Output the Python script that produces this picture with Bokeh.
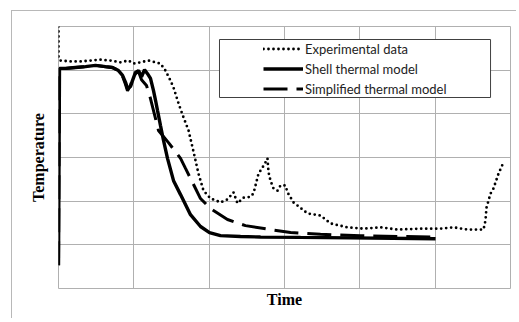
from bokeh.plotting import figure
from bokeh.models import Range1d, FixedTicker, Legend, LegendItem, BoxAnnotation
from bokeh.embed import file_html
from bokeh.resources import INLINE

# ---- data (arbitrary units) ----
exp_time = [0.00, 0.00, 0.027, 0.159, 0.292, 0.425, 0.558, 0.690, 0.823, 0.929, 0.996, 1.089, 1.195,
            1.288, 1.354, 1.420, 1.487, 1.527, 1.593, 1.659, 1.726, 1.779, 1.819, 1.858, 1.925, 2.018,
            2.084, 2.150, 2.243, 2.323, 2.376, 2.456, 2.549, 2.589, 2.655, 2.708, 2.748, 2.774, 2.788,
            2.814, 2.854, 2.907, 2.947, 3.013, 3.040, 3.120, 3.173, 3.305, 3.478, 3.611, 3.836, 4.049,
            4.275, 4.500, 4.806, 5.071, 5.244, 5.429, 5.642, 5.668, 5.681, 5.708, 5.734, 5.774, 5.841, 5.907]
exp_temp = [6.00, 5.27, 5.22, 5.20, 5.20, 5.22, 5.24, 5.22, 5.18, 5.22, 5.15, 5.18, 5.22,
            5.18, 5.15, 4.99, 4.76, 4.60, 4.24, 3.92, 3.62, 3.23, 2.93, 2.63, 2.24, 2.06,
            2.02, 1.97, 2.04, 2.20, 1.95, 2.08, 2.10, 2.18, 2.63, 2.77, 2.89, 2.98, 2.66,
            2.47, 2.29, 2.24, 2.36, 2.36, 2.20, 1.97, 1.90, 1.72, 1.67, 1.49, 1.40, 1.37,
            1.40, 1.35, 1.37, 1.37, 1.40, 1.35, 1.35, 1.56, 1.85, 2.01, 2.17, 2.29, 2.63, 2.89]

shell_time = [0.00, 0.013, 0.093, 0.226, 0.358, 0.491, 0.624, 0.717, 0.796, 0.850, 0.890, 0.916, 0.956,
              0.982, 1.022, 1.062, 1.102, 1.142, 1.181, 1.221, 1.261, 1.288, 1.314, 1.354, 1.394, 1.447,
              1.527, 1.620, 1.752, 1.885, 2.004, 2.150, 2.416, 2.682, 3.213, 3.876, 5.005]
shell_temp = [0.53, 5.04, 5.04, 5.06, 5.08, 5.11, 5.08, 5.06, 4.99, 4.88, 4.72, 4.58, 4.63,
              4.76, 4.95, 4.99, 4.85, 5.01, 4.92, 4.81, 4.53, 4.31, 4.08, 3.73, 3.39, 2.98,
              2.47, 2.15, 1.69, 1.42, 1.28, 1.21, 1.19, 1.18, 1.17, 1.16, 1.14]

simp_time = [0.00, 0.013, 0.093, 0.226, 0.358, 0.491, 0.624, 0.717, 0.796, 0.850, 0.890, 0.916, 0.956,
             0.982, 1.022, 1.062, 1.102, 1.168, 1.221, 1.288, 1.327, 1.460, 1.620, 1.686, 1.819, 1.885,
             2.018, 2.243, 2.482, 2.814, 3.080, 3.478, 4.009, 4.540, 5.005]
simp_temp = [0.53, 5.04, 5.04, 5.06, 5.08, 5.11, 5.08, 5.06, 4.99, 4.86, 4.67, 4.53, 4.65,
             4.79, 4.92, 4.97, 4.78, 4.65, 4.35, 3.89, 3.62, 3.34, 2.98, 2.75, 2.29, 2.06,
             1.83, 1.58, 1.44, 1.35, 1.28, 1.24, 1.21, 1.19, 1.18]

grid_ticks = [0, 1, 2, 3, 4, 5, 6]
legend_labels = ["Experimental data", "Shell thermal model", "Simplified thermal model"]

GRID = "#b0b0b0"

p = figure(width=505, height=308, output_backend="svg", toolbar_location=None,
           x_range=Range1d(0, 6), y_range=Range1d(0, 6),
           min_border_left=46, min_border_right=7, min_border_top=15, min_border_bottom=31)
# outer chart-area border: only its left and top edges fall inside the picture
p.styles = {"margin-left": "11px", "margin-top": "10px",
            "border-left": "1px solid #b8b8b8", "border-top": "1px solid #b8b8b8"}

p.background_fill_color = "white"
p.border_fill_color = "white"
p.outline_line_color = GRID
p.outline_line_width = 1

for ax in (p.xaxis, p.yaxis):
    ax.ticker = FixedTicker(ticks=[])
    ax.axis_line_color = None
    ax.major_tick_line_color = None
    ax.minor_tick_line_color = None
    ax.major_label_text_font_size = "0px"
    ax.major_label_standoff = 0
    ax.axis_label_text_font = "Liberation Serif"
    ax.axis_label_text_font_style = "bold"
    ax.axis_label_text_font_size = "16px"
    ax.axis_label_text_color = "black"

p.xaxis.axis_label = "Time"
p.yaxis.axis_label = "Temperature"
p.xaxis.axis_label_standoff = 2
p.yaxis.axis_label_standoff = 12

p.xgrid.ticker = FixedTicker(ticks=grid_ticks)
p.ygrid.ticker = FixedTicker(ticks=grid_ticks)
p.xgrid.grid_line_color = GRID
p.ygrid.grid_line_color = GRID

r_exp = p.line(exp_time, exp_temp, line_color="black", line_width=2.8,
               line_dash="0 5", line_cap="round")
r_shell = p.line(shell_time, shell_temp, line_color="black", line_width=3.4)
r_simp = p.line(simp_time, simp_temp, line_color="black", line_width=3,
                line_dash="24 9")

box = BoxAnnotation(left=2.137, right=5.735, bottom=4.374, top=5.702,
                    fill_color="white", fill_alpha=1.0,
                    line_color="#404040", line_width=1, line_alpha=1.0)
p.add_layout(box)

legend = Legend(items=[LegendItem(label=legend_labels[0], renderers=[r_exp]),
                       LegendItem(label=legend_labels[1], renderers=[r_shell]),
                       LegendItem(label=legend_labels[2], renderers=[r_simp])],
                location=(205, 190), padding=0, margin=0, spacing=1,
                glyph_width=40, glyph_height=19, label_height=19, label_standoff=2,
                label_text_font="Lato", label_text_font_size="13px",
                label_text_color="#222222", label_text_baseline="middle",
                border_line_alpha=0, background_fill_alpha=0)
p.add_layout(legend)

open("out.html", "w").write(file_html(p, INLINE))
